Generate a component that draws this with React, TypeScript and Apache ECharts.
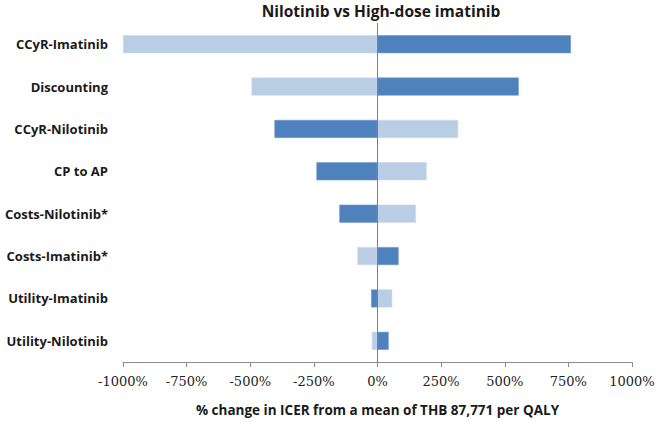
import React, { useEffect, useRef } from "react";
import * as echarts from "echarts";

const categories = [
  "CCyR-Imatinib",
  "Discounting",
  "CCyR-Nilotinib",
  "CP to AP",
  "Costs-Nilotinib*",
  "Costs-Imatinib*",
  "Utility-Imatinib",
  "Utility-Nilotinib",
];
const darkValues = [760, 555, -405, -240, -150, 83, -25, 44];
const lightValues = [-1000, -495, 317, 193, 151, -79, 58, -22];
const tickValues = { min: -1000, max: 1000, interval: 250 };

export default function App() {
  const ref = useRef<HTMLDivElement>(null);
  useEffect(() => {
    document.body.style.margin = "0";
    if (!ref.current) return;
    const chart = echarts.init(ref.current, null, { renderer: "svg" });
    chart.setOption({
      animation: false,
      title: {
        text: "Nilotinib vs High-dose imatinib",
        left: 381,
        textAlign: "center",
        top: 3,
        padding: 0,
        textStyle: {
          fontFamily: "Open Sans",
          fontWeight: "bold",
          fontSize: 15.5,
          color: "#1a1a1a",
        },
      },
      grid: { left: 123, right: 27, top: 23, bottom: 57, containLabel: false },
      xAxis: {
        type: "value",
        min: tickValues.min,
        max: tickValues.max,
        interval: tickValues.interval,
        name: "% change in ICER from a mean of THB 87,771 per QALY",
        nameLocation: "middle",
        nameGap: 41,
        nameTextStyle: {
          fontFamily: "Open Sans",
          fontWeight: "bold",
          fontSize: 13.5,
          color: "#1a1a1a",
        },
        axisLine: { show: true, lineStyle: { color: "#8c8c8c", width: 1 } },
        axisTick: { show: true, length: 5, lineStyle: { color: "#8c8c8c" } },
        splitLine: { show: false },
        axisLabel: {
          formatter: (v: number) => `${v}%`,
          fontFamily: "DejaVu Serif",
          fontSize: 13,
          color: "#222",
          margin: 13,
        },
      },
      yAxis: {
        type: "category",
        data: categories,
        inverse: true,
        axisLine: { show: false },
        axisTick: { show: false },
        axisLabel: {
          fontFamily: "Open Sans",
          fontWeight: "bold",
          fontSize: 13,
          color: "#1a1a1a",
          margin: 15,
        },
      },
      series: [
        {
          type: "bar",
          name: "dark",
          data: darkValues,
          barWidth: 18,
          barGap: "-100%",
          itemStyle: { color: "#4f81bd", borderColor: "#6d98cc", borderWidth: 0.6 },
          markLine: {
            silent: true,
            symbol: "none",
            label: { show: false },
            lineStyle: { color: "#7f7f7f", width: 1, type: "solid" },
            data: [{ xAxis: 0 }],
          },
        },
        {
          type: "bar",
          name: "light",
          data: lightValues,
          barWidth: 18,
          barGap: "-100%",
          itemStyle: { color: "#b9cde5", borderColor: "#cbdaec", borderWidth: 0.6 },
        },
      ],
    });
    return () => chart.dispose();
  }, []);
  return <div ref={ref} style={{ width: 659, height: 422 }} />;
}
